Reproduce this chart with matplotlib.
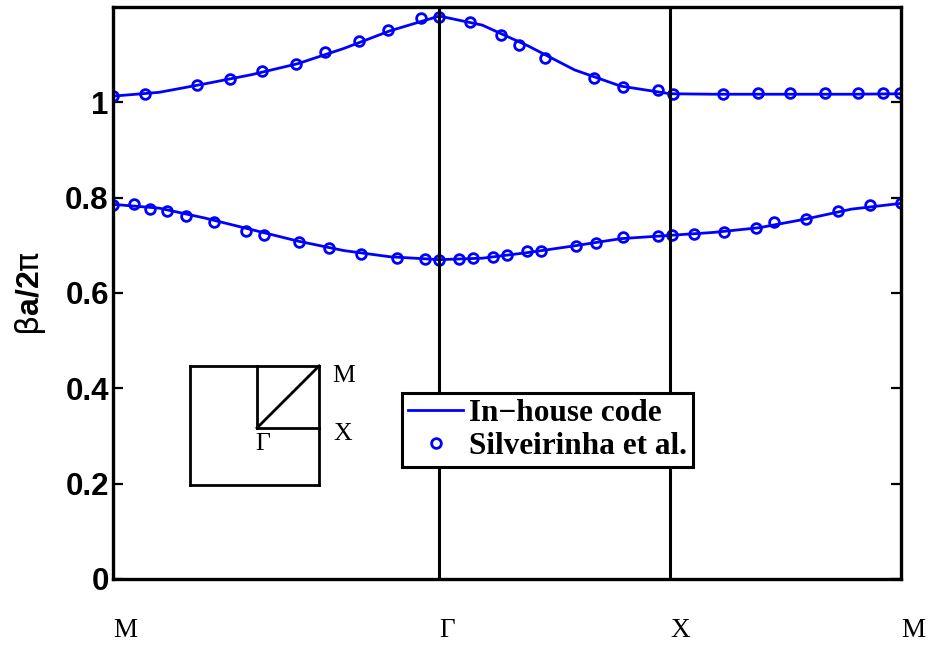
import numpy as np
import matplotlib
matplotlib.use("Agg")
import matplotlib.pyplot as plt

# high-symmetry path M -> Gamma -> X -> M (segment lengths sqrt2, 1, 1)
path_ticks = [0.0, np.sqrt(2), np.sqrt(2) + 1, np.sqrt(2) + 2]
path_labels = ["M", "Γ", "X", "M"]

# in-house solver, band 1 and band 2
code_k = [0.0, 0.2, 0.4, 0.6, 0.8, 1.0, 1.2, 1.414, 1.6, 1.8, 2.0, 2.2,
          2.414, 2.6, 2.8, 3.0, 3.2, 3.414]
code_band1 = [0.786, 0.778, 0.757, 0.733, 0.709, 0.689, 0.676, 0.670,
              0.673, 0.685, 0.699, 0.714, 0.721, 0.727, 0.737, 0.755,
              0.776, 0.788]
code_band2 = [1.013, 1.021, 1.039, 1.058, 1.081, 1.113, 1.150, 1.181,
              1.162, 1.118, 1.068, 1.034, 1.018, 1.017, 1.017, 1.017,
              1.017, 1.018]

# reference values (Silveirinha et al.)
ref_k1 = [0.0, 0.092, 0.160, 0.233, 0.315, 0.439, 0.576, 0.656, 0.805,
          0.935, 1.075, 1.229, 1.351, 1.414, 1.500, 1.558, 1.648, 1.708,
          1.795, 1.855, 2.005, 2.091, 2.211, 2.360, 2.421, 2.517, 2.649,
          2.785, 2.865, 3.001, 3.143, 3.280, 3.413]
ref_band1 = [0.785, 0.787, 0.777, 0.773, 0.762, 0.750, 0.731, 0.722,
             0.706, 0.694, 0.682, 0.674, 0.671, 0.669, 0.671, 0.673,
             0.676, 0.680, 0.688, 0.689, 0.699, 0.704, 0.717, 0.720,
             0.722, 0.724, 0.729, 0.736, 0.749, 0.756, 0.773, 0.785,
             0.789]
ref_k2 = [0.0, 0.139, 0.363, 0.507, 0.647, 0.793, 0.919, 1.066, 1.190,
          1.333, 1.414, 1.547, 1.680, 1.760, 1.872, 2.084, 2.211, 2.360,
          2.428, 2.644, 2.793, 2.933, 3.085, 3.227, 3.338, 3.410]
ref_band2 = [1.013, 1.017, 1.037, 1.049, 1.065, 1.081, 1.105, 1.128,
             1.151, 1.176, 1.180, 1.168, 1.141, 1.121, 1.092, 1.052,
             1.032, 1.025, 1.018, 1.018, 1.019, 1.019, 1.019, 1.019,
             1.019, 1.019]

blue = "#0000ff"
sans = "Liberation Sans"
serif = "Liberation Serif"

fig = plt.figure(figsize=(9.3, 6.46), dpi=100)
ax = fig.add_axes([113 / 930, 1 - 579 / 646, 788 / 930, 572 / 646])

ax.plot(code_k, code_band1, color=blue, lw=2.0, label="In\u2212house code")
ax.plot(code_k, code_band2, color=blue, lw=2.0)
ax.plot(ref_k1, ref_band1, "o", mfc="none", mec=blue, mew=2.0, ms=7,
        label="Silveirinha et al.")
ax.plot(ref_k2, ref_band2, "o", mfc="none", mec=blue, mew=2.0, ms=7)

for k in path_ticks[1:3]:
    ax.axvline(k, color="k", lw=2.2)

ax.set_xlim(path_ticks[0], path_ticks[-1])
ax.set_ylim(0, 1.2)
ax.set_yticks([0, 0.2, 0.4, 0.6, 0.8, 1.0])
ax.set_yticklabels(["0", "0.2", "0.4", "0.6", "0.8", "1"],
                   fontfamily=sans, fontweight="bold", fontsize=22.5)
ax.tick_params(axis="y", direction="in", length=7, width=1.6,
               right=True, pad=3)
ax.set_xticks(path_ticks)
ax.set_xticklabels(path_labels, fontfamily=serif, fontsize=19.5, ha="left")
ax.tick_params(axis="x", length=0, pad=28)
for s in ax.spines.values():
    s.set_linewidth(2.4)

fig.text(31 / 930, 1 - 293 / 646, r"$\mathrm{\beta}$a/2$\mathrm{\pi}$",
         rotation=90, ha="center", va="center",
         fontfamily=sans, fontweight="bold", fontsize=23)

# Brillouin zone sketch
def seg(x0, y0, x1, y1):
    ax.plot([x0, x1], [y0, y1], color="k", lw=2.0, solid_capstyle="projecting")

bx0, bx1 = 0.334, 0.893
by0, by1 = 0.198, 0.447
gx, gy = 0.624, 0.317
seg(bx0, by0, bx1, by0)
seg(bx1, by0, bx1, by1)
seg(bx1, by1, bx0, by1)
seg(bx0, by1, bx0, by0)
seg(gx, gy, gx, by1)
seg(gx, gy, bx1, gy)
seg(gx, gy, bx1, by1)
ax.text(0.949, 0.414, "M", fontfamily=serif, fontsize=18.5, va="baseline")
ax.text(0.953, 0.292, "X", fontfamily=serif, fontsize=18.5, va="baseline")
ax.text(0.615, 0.271, "Γ", fontfamily=serif, fontsize=18.5, va="baseline")

leg = ax.legend(loc="upper left", bbox_to_anchor=(402 / 930, 1 - 393 / 646),
                bbox_transform=fig.transFigure, borderaxespad=0,
                fancybox=False, edgecolor="k", framealpha=1, numpoints=1,
                handlelength=1.75, handletextpad=0.2, borderpad=0.2,
                labelspacing=0.12,
                prop={"family": serif, "weight": "bold", "size": 22.5})
leg.get_frame().set_linewidth(2.2)

fig.savefig("out.png", dpi=100)
